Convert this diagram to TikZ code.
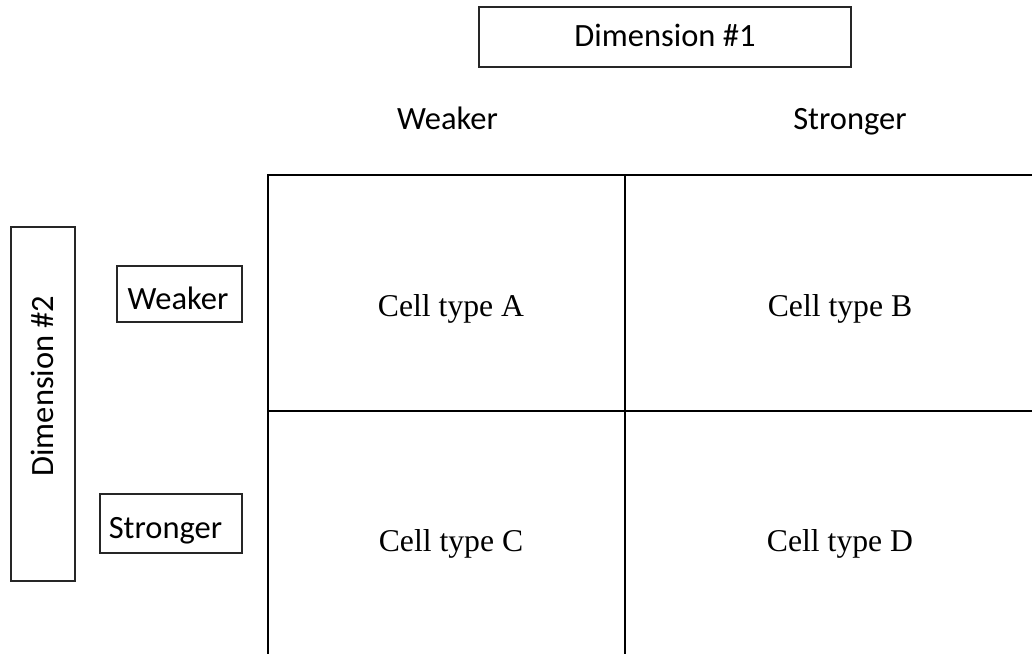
\documentclass[tikz,border=0pt]{standalone}
\usepackage{fontspec}
\setmainfont{Liberation Serif}
\newfontfamily\labelfont{Carlito}
\begin{document}
\begin{tikzpicture}[x=1pt,y=-1pt,
  lab/.style={font=\labelfont\fontsize{32.5}{38}\selectfont, inner sep=0pt, anchor=base},
  cell/.style={font=\fontsize{31.7}{37}\selectfont, inner sep=0pt, anchor=base},
  framebox/.style={draw=black!85, line width=1.2pt},
  gridline/.style={draw=black, line width=2pt}]
  \useasboundingbox (0,0) rectangle (1032,653);
  \clip (0,0) rectangle (1032,653);

  % dimension headings
  \draw[framebox] (479,7) rectangle (851,67);
  \node[lab] (dimone) at (665,46.5) {Dimension \#1};
  \draw[framebox] (11,227) rectangle (75,581);
  \node[lab, rotate=90] (dimtwo) at (53.5,386) {Dimension \#2};

  % column levels
  \node[lab] (colweak) at (447.5,129.5) {Weaker};
  \node[lab] (colstrong) at (850,129) {Stronger};

  % row levels
  \draw[framebox] (117,266) rectangle (242,322);
  \node[lab] (rowweak) at (178,309.5) {Weaker};
  \draw[framebox] (100,494) rectangle (242,553);
  \node[lab] (rowstrong) at (165.5,538) {Stronger};

  % 2x2 grid
  \draw[gridline] (1040,175.3) -- (268,175.3) -- (268,660);
  \draw[gridline] (625,175.3) -- (625,660);
  \draw[gridline] (268,411) -- (1040,411);

  % cells
  \node[cell] (ca) at (451,316.7) {Cell type A};
  \node[cell] (cb) at (840,316.7) {Cell type B};
  \node[cell] (cc) at (451,551.7) {Cell type C};
  \node[cell] (cd) at (840,551.7) {Cell type D};
\end{tikzpicture}
\end{document}
